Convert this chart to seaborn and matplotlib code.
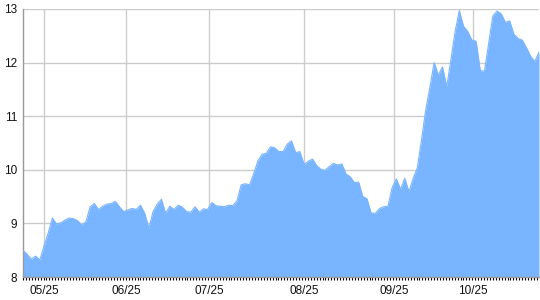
import numpy as np
import pandas as pd
import matplotlib
matplotlib.use("Agg")
import matplotlib.pyplot as plt
import seaborn as sns
from matplotlib.ticker import FixedLocator, MultipleLocator

# ---- data ----
values = [
    8.50, 8.42, 8.33, 8.39, 8.32, 8.57, 8.82, 9.10, 8.99, 9.01,
    9.06, 9.10, 9.09, 9.05, 8.97, 9.03, 9.31, 9.37, 9.26, 9.32,
    9.36, 9.37, 9.41, 9.31, 9.22, 9.25, 9.28, 9.26, 9.34, 9.19,
    8.91, 9.22, 9.36, 9.45, 9.19, 9.32, 9.26, 9.34, 9.30, 9.22,
    9.21, 9.31, 9.21, 9.27, 9.26, 9.39, 9.33, 9.32, 9.31, 9.34,
    9.33, 9.42, 9.72, 9.74, 9.72, 9.93, 10.17, 10.29, 10.31, 10.43,
    10.41, 10.34, 10.34, 10.48, 10.54, 10.32, 10.34, 10.10, 10.16, 10.20,
    10.08, 10.01, 9.99, 10.06, 10.12, 10.09, 10.11, 9.92, 9.87, 9.76,
    9.77, 9.50, 9.46, 9.19, 9.19, 9.28, 9.31, 9.32, 9.67, 9.83,
    9.64, 9.84, 9.59, 9.84, 10.04, 10.56, 11.12, 11.54, 12.00, 11.77,
    11.92, 11.55, 12.05, 12.58, 12.97, 12.68, 12.58, 12.42, 12.40, 11.85,
    11.84, 12.36, 12.87, 12.96, 12.91, 12.75, 12.78, 12.53, 12.45, 12.42,
    12.28, 12.12, 12.02, 12.20,
]
month_labels = ["05/25", "06/25", "07/25", "08/25", "09/25", "10/25"]
y_ticks = [8, 9, 10, 11, 12, 13]

# layout constants (positions of the monthly grid lines on the index axis)
month_pos = [5.0, 24.6, 44.4, 67.1, 88.5, 107.3]

df = pd.DataFrame({"idx": np.arange(len(values)), "value": values})

sns.set_theme(style="white")
plt.rcParams["font.family"] = ["Liberation Sans", "DejaVu Sans"]

fig = plt.figure(figsize=(5.4, 3.0), dpi=100)
ax = fig.add_axes([23 / 540, 23 / 300, 516 / 540, 268 / 300])

fill_color = "#78b4ff"
sns.lineplot(data=df, x="idx", y="value", ax=ax, color=fill_color, lw=0.8, zorder=3)
ax.fill_between(df["idx"], 8, df["value"], color=fill_color, lw=0, zorder=2)

ax.set_xlim(0, len(values) - 1)
ax.set_ylim(8, 13)
ax.set_xlabel("")
ax.set_ylabel("")

ax.xaxis.set_major_locator(FixedLocator(month_pos))
ax.set_xticklabels(month_labels)
ax.xaxis.set_minor_locator(MultipleLocator(0.7))
ax.set_yticks(y_ticks)
ax.set_yticklabels([str(t) for t in y_ticks])

ax.grid(True, which="major", color="#cccccc", lw=1.0, zorder=0)
ax.set_axisbelow(True)

ax.tick_params(axis="x", which="major", length=0, pad=6, labelsize=8.5, colors="#111111")
ax.tick_params(axis="x", which="minor", length=2.5, width=0.8, color="#000000",
               direction="out", bottom=True)
ax.tick_params(axis="y", which="major", length=0, pad=4, labelsize=8.5, colors="#111111")

for side in ["top", "right"]:
    ax.spines[side].set_visible(False)
ax.spines["left"].set_color("#999999")
ax.spines["left"].set_linewidth(1.0)
ax.spines["bottom"].set_color("#999999")
ax.spines["bottom"].set_linewidth(1.0)

fig.savefig("out.png", dpi=100)
